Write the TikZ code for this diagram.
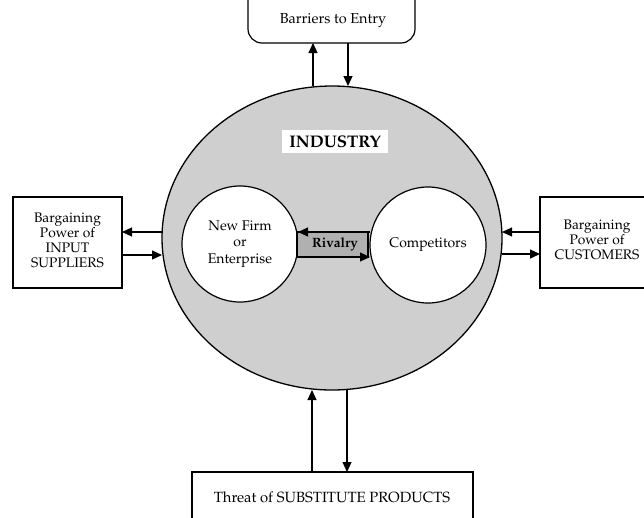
\documentclass[tikz,border=0pt]{standalone}
\usepackage[T1]{fontenc}
\usepackage{mathpazo}
\usetikzlibrary{shapes.geometric,arrows.meta}
\begin{document}
\begin{tikzpicture}[x=1pt,y=-1pt,
  box/.style={draw, line width=1.2pt, inner sep=0pt, outer sep=0pt, rectangle},
  lbl/.style={align=center, font=\fontsize{14}{16.5}\selectfont, inner sep=0pt},
  side/.style={align=center, font=\fontsize{13.8}{15}\selectfont, inner sep=0pt},
  arr/.style={line width=1.2pt, -{Triangle[length=10pt,width=9pt]}},
  ]
\useasboundingbox (0,0) rectangle (644,517);
\clip (0,0) rectangle (644,517);
% industry
\node[ellipse, draw, line width=1.3pt, fill=gray!38, minimum width=340pt, minimum height=304pt, inner sep=0pt, outer sep=0pt] (big) at (332,238) {};
\node[circle, draw, line width=1.2pt, fill=white, minimum size=116pt, inner sep=0pt, outer sep=0pt] (firm) at (240,244) {};
\node[circle, draw, line width=1.2pt, fill=white, minimum size=116pt, inner sep=0pt, outer sep=0pt] (comp) at (428,245) {};
\node[lbl] (firmt) at (240,244) {New Firm\\or\\Enterprise};
\node[lbl] (compt) at (428,245) {Competitors};
\node[fill=white, minimum width=106pt, minimum height=23pt, inner sep=0pt, font=\fontsize{16.8}{18}\selectfont\bfseries] (ind) at (335,141.5) {INDUSTRY};
% rivalry
\node[box, fill=gray!62, minimum width=71pt, minimum height=25pt] (riv) at (332.5,244.5) {};
\node[font=\fontsize{13.5}{15}\selectfont\bfseries, inner sep=0pt] (rivt) at (335,244) {Rivalry};
\draw[arr] (comp.west |- riv.north) -- (firm.east |- riv.north);
\draw[arr] (firm.east |- riv.south) -- (comp.west |- riv.south);
% boxes
\node[box, rounded corners=14pt, minimum width=167pt, minimum height=70pt] (top) at (331.5,8) {};
\node[lbl, font=\fontsize{14.5}{16.5}\selectfont] (topt) at (333,21) {Barriers to Entry};
\node[box, minimum width=109pt, minimum height=91pt] (left) at (67.5,242.5) {};
\node[side] (leftt) at (67.5,240.5) {Bargaining\\Power of\\INPUT\\SUPPLIERS};
\node[box, minimum width=116pt, minimum height=91pt] (right) at (598,242.5) {};
\node[side] (rightt) at (597,240) {Bargaining\\Power of\\CUSTOMERS};
\node[box, minimum width=281pt, minimum height=70pt] (bot) at (332.5,507) {};
\node[lbl, font=\fontsize{14.8}{16.5}\selectfont] (bott) at (332,497) {Threat of SUBSTITUTE PRODUCTS};
% connectors
\draw[arr] (big.north -| 313,0) -- (top.south -| 313,0);
\draw[arr] (top.south -| 348,0) -- (big.north -| 348,0);
\draw[arr] (big.west |- 0,232) -- (left.east |- 0,232);
\draw[arr] (left.east |- 0,255) -- (big.west |- 0,255);
\draw[arr] (right.west |- 0,232) -- (big.east |- 0,232);
\draw[arr] (big.east |- 0,254) -- (right.west |- 0,254);
\draw[arr] (bot.north -| 312,0) -- (big.south -| 312,0);
\draw[arr] (big.south -| 347,0) -- (bot.north -| 347,0);
\end{tikzpicture}
\end{document}
